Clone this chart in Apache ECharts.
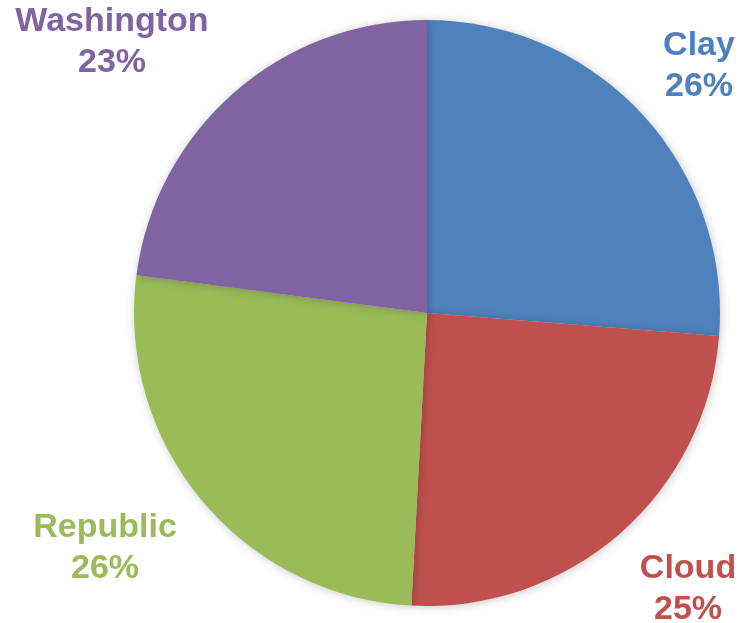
<!DOCTYPE html>
<html>
<head>
<meta charset="utf-8">
<script src="https://cdn.jsdelivr.net/npm/echarts@6/dist/echarts.min.js"></script>
<style>html,body{margin:0;padding:0;background:#fff}#c{width:742px;height:623px}</style>
</head>
<body>
<div id="c"></div>
<script>
const categories = ['Clay', 'Cloud', 'Republic', 'Washington'];
const values = [26.25, 24.6, 26.2, 22.95];
const colors = ['#4F81BD', '#C0504D', '#9BBB59', '#8064A2'];
const labelPos = [[699, 66], [688, 589], [105, 548], [112, 42]];

const chart = echarts.init(document.getElementById('c'));
chart.setOption({
  animation: false,
  series: [{
    type: 'pie',
    center: [427, 313],
    radius: 293,
    startAngle: 90,
    clockwise: true,
    percentPrecision: 0,
    data: categories.map((n, i) => ({
      name: n, value: values[i],
      itemStyle: { color: colors[i] },
      label: { color: colors[i] }
    })),
    itemStyle: {
      shadowBlur: 10, shadowColor: 'rgba(0,0,0,0.22)', shadowOffsetX: 1, shadowOffsetY: 1
    },
    label: {
      show: true, position: 'outside',
      formatter: '{b}\n{d}%',
      fontFamily: 'Liberation Sans, Arial, sans-serif',
      fontWeight: 'bold', fontSize: 34, lineHeight: 41,
      align: 'center',
      overflow: 'none',
      width: 300
    },
    labelLine: { show: false },
    labelLayout: function (p) {
      const pos = labelPos[p.dataIndex];
      return { x: pos[0], y: pos[1], align: 'center', verticalAlign: 'middle', hideOverlap: false, moveOverlap: null };
    },
    emphasis: { disabled: true }
  }]
});
</script>
</body>
</html>
